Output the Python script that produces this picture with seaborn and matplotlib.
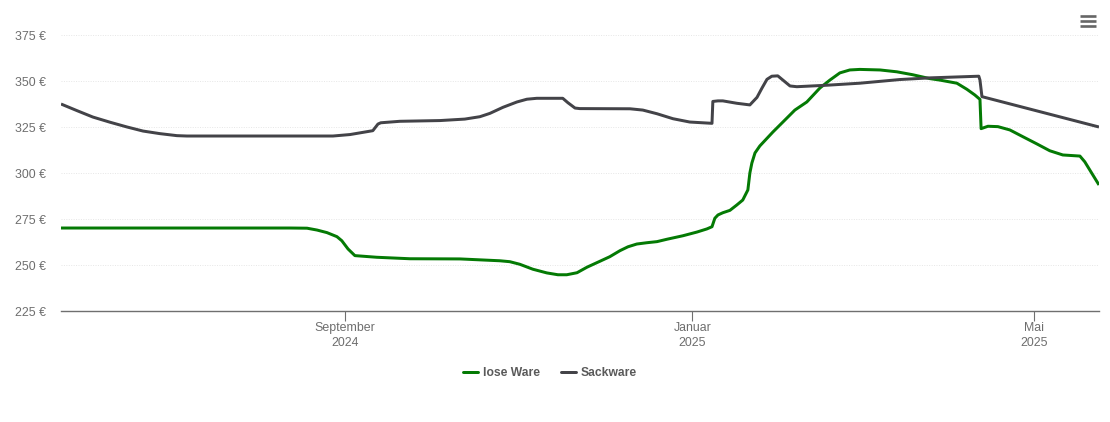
import numpy as np
import pandas as pd
import matplotlib
matplotlib.use("Agg")
import matplotlib.pyplot as plt
from matplotlib.lines import Line2D
import seaborn as sns

# days relative to 1 September 2024, prices in euro
lose_days = [-99.7,-19.3,-13.3,-9.8,-6.3,-2.8,-1.1,1.1,3.5,11.2,22.8,40.4,54.4,57.9,61.4,66,70.9,74.8,77.9,81.5,85,89.5,93,96.6,99.4,102.5,106,109.6,113.1,118.7,123.6,127.1,128.9,129.9,131,132.7,135.2,137.6,139.7,141.5,142.2,142.9,144,145.7,150.3,153.8,158,162.2,166.8,170.3,173.8,177.3,180.8,187.9,193.8,199.4,205.4,208.9,214.9,218.4,221.2,223,223.4,225.8,229.3,233.5,238.1,243,247.5,252.1,258.1,259.8,262.3,264.8]
lose_vals = [270.1,270.1,270,269,267.6,265.4,263.2,258.7,255.1,254.2,253.4,253.3,252.3,251.8,250.4,247.7,245.7,244.7,244.7,245.8,248.8,252,254.5,257.8,259.9,261.4,262.1,262.7,264,265.9,267.9,269.6,270.8,275.4,277.2,278.4,279.7,282.6,285.3,290.8,300,305.4,310.9,314.7,322.3,327.7,334.2,338.6,346.2,350.5,354.4,356,356.3,356,355,353.4,351.3,350.5,348.8,345.5,342.4,340,324.1,325.4,325.2,323.4,319.7,315.8,312.1,309.8,309.2,306.1,299.8,293.5]
sack_days = [-99.7,-94.1,-88.5,-82.5,-76.5,-70.9,-65,-59,-55.5,-4.2,1.8,9.8,11.6,12.6,19.3,33.4,42.1,47.4,50.9,55.5,60.4,63.9,67.4,76.5,78.3,80.8,82.5,100.1,104.6,109.6,115.2,121.1,128.9,129.2,131,132.7,137.6,142.2,144.7,146.4,148.2,149.9,152,153.8,156.3,158.7,169.2,180.8,194.9,205.4,222.6,223,223.7,264.8]
sack_vals = [337.5,333.9,330.4,327.6,325,322.8,321.4,320.3,320.1,320.1,320.9,323,326.6,327.3,328.1,328.5,329.3,330.6,332.4,335.7,338.6,340.1,340.6,340.6,338.2,335.3,335,334.9,334.2,332.2,329.5,327.7,327,338.9,339.2,339.2,337.9,337,341.1,346,350.9,352.6,352.8,350.5,347.3,346.9,347.7,348.8,350.8,351.7,352.6,350.5,341.5,325]
series_names = ["lose Ware", "Sackware"]
series_colors = ["#047a04", "#434348"]
y_ticks = [225, 250, 275, 300, 325, 350, 375]
x_tick_dates = ["2024-09-01", "2025-01-01", "2025-05-01"]
x_tick_labels = ["September\n2024", "Januar\n2025", "Mai\n2025"]

base = pd.Timestamp("2024-09-01")
df = pd.concat([
    pd.DataFrame({"date": base + pd.to_timedelta(lose_days, unit="D"), "price": lose_vals, "typ": series_names[0]}),
    pd.DataFrame({"date": base + pd.to_timedelta(sack_days, unit="D"), "price": sack_vals, "typ": series_names[1]}),
])

sns.set_theme(style="white")
plt.rcParams["font.family"] = ["Liberation Sans", "DejaVu Sans"]
W, H = 1110, 422
fig = plt.figure(figsize=(W / 100, H / 100), dpi=100, facecolor="white")
ax = fig.add_axes([61 / W, 1 - 311 / H, (1099 - 61) / W, (311 - 35) / H])
sns.lineplot(data=df, x="date", y="price", hue="typ", palette=dict(zip(series_names, series_colors)),
             hue_order=series_names, sort=False, estimator=None, errorbar=None, lw=2.15, ax=ax, legend=False,
             solid_joinstyle="round", solid_capstyle="butt")
ax.set_xlim(base + pd.Timedelta(days=-99.7), base + pd.Timedelta(days=264.8))
ax.set_ylim(225, 375)
ax.set_xlabel("")
ax.set_ylabel("")
for s in ["top", "right", "left"]:
    ax.spines[s].set_visible(False)
ax.spines["bottom"].set_color("#6f6f6f")
ax.spines["bottom"].set_linewidth(1.0)
ax.set_yticks(y_ticks)
ax.set_yticklabels([f"{v} €" for v in y_ticks])
ax.set_xticks(pd.to_datetime(x_tick_dates))
ax.set_xticklabels(x_tick_labels, linespacing=1.3)
ax.tick_params(axis="y", length=0, pad=11, labelsize=8.9, labelcolor="#6e6e6e")
ax.tick_params(axis="x", bottom=True, length=7, width=0.8, color="#6f6f6f", pad=1, labelsize=8.9, labelcolor="#6e6e6e")
ax.grid(axis="y", color="#e6e6e6", lw=0.7, ls=(0, (1, 1.5)))
ax.set_axisbelow(True)

handles = [Line2D([], [], color=c, lw=2.15) for c in series_colors]
leg = fig.legend(handles, series_names, loc="center", bbox_to_anchor=(550 / W, 1 - 373 / H), ncol=2, frameon=False,
                 handlelength=1.22, handletextpad=0.42, columnspacing=1.72,
                 prop={"size": 8.75, "weight": "bold"}, labelcolor="#5a5a5a")

for y in [16.3, 21.3, 26.3]:
    fig.add_artist(Line2D([1080 / W, 1096 / W], [1 - y / H] * 2, color="#666666", lw=1.9, solid_capstyle="butt"))

fig.savefig("out.png", dpi=100)
